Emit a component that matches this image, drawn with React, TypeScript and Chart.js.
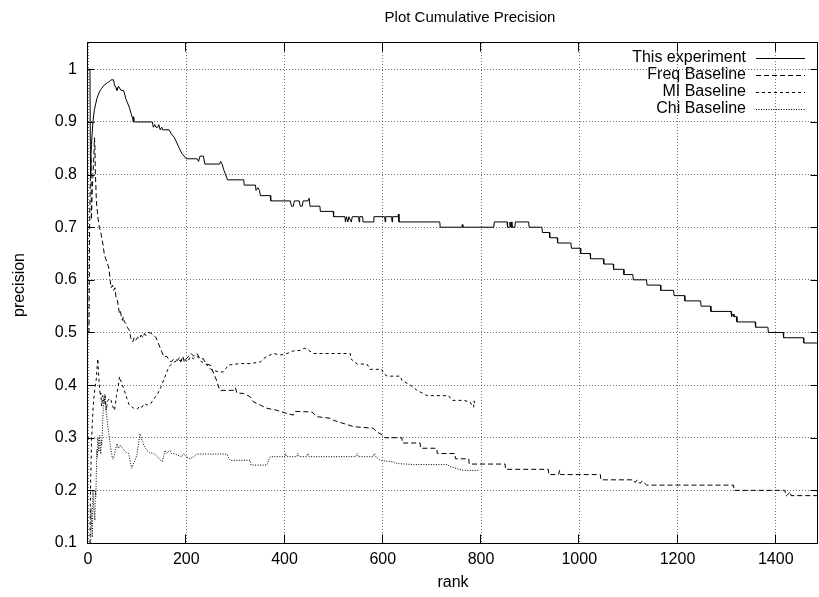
import React, { useEffect, useRef } from 'react';
import { Chart, registerables } from 'chart.js';

Chart.register(...registerables);

const FONT = "'Liberation Sans', Arial, Helvetica, sans-serif";

const titleText = 'Plot Cumulative Precision';
const xAxisLabel = 'rank';
const yAxisLabel = 'precision';
const xTickValues = [0, 200, 400, 600, 800, 1000, 1200, 1400];
const xTickLabels = ['0', '200', '400', '600', '800', '1000', '1200', '1400'];
const yTickValues = [0.1, 0.2, 0.3, 0.4, 0.5, 0.6, 0.7, 0.8, 0.9, 1.0];
const yTickLabels = ['0.1', '0.2', '0.3', '0.4', '0.5', '0.6', '0.7', '0.8', '0.9', '1'];
const seriesNames = ['This experiment', 'Freq Baseline', 'MI Baseline', 'Chi Baseline'];
const seriesDashes = [[], [5, 3], [3, 3], [1, 1.5]];

const expRank = [1, 4, 5, 6, 7, 10, 13, 18, 23, 28, 33, 40, 44, 47, 52, 54, 57, 59, 62, 67, 72, 74, 77, 84, 88, 91, 92, 93, 94, 131, 133, 136, 138, 142, 144, 147, 150, 152, 165, 170, 176, 181, 186, 191, 196, 200, 222, 225, 228, 235, 238, 268, 270, 273, 276, 280, 284, 317, 318, 341, 342, 346, 349, 351, 371, 372, 412, 414, 418, 420, 430, 432, 436, 438, 448, 450, 452, 472, 473, 499, 500, 523, 524, 526, 529, 531, 536, 538, 551, 552, 553, 559, 560, 581, 582, 604, 605, 606, 618, 619, 620, 631, 632, 633, 716, 717, 761, 762, 763, 826, 827, 853, 854, 858, 859, 860, 862, 863, 869, 870, 897, 898, 924, 925, 939, 940, 955, 956, 983, 984, 1002, 1003, 1022, 1023, 1049, 1050, 1069, 1070, 1090, 1091, 1109, 1110, 1137, 1138, 1165, 1166, 1192, 1193, 1214, 1215, 1247, 1248, 1267, 1268, 1309, 1310, 1313, 1315, 1320, 1321, 1358, 1359, 1384, 1385, 1415, 1416, 1456, 1457, 1486];
const expPrec = [1.0, 1.0, 0.8, 0.833, 0.857, 0.9, 0.923, 0.944, 0.957, 0.964, 0.97, 0.975, 0.977, 0.98, 0.98, 0.97, 0.965, 0.96, 0.968, 0.96, 0.96, 0.955, 0.944, 0.928, 0.915, 0.906, 0.9, 0.91, 0.9, 0.9, 0.89, 0.895, 0.89, 0.89, 0.895, 0.885, 0.89, 0.885, 0.885, 0.877, 0.87, 0.86, 0.85, 0.84, 0.835, 0.83, 0.83, 0.825, 0.835, 0.835, 0.82, 0.82, 0.825, 0.82, 0.81, 0.8, 0.79, 0.79, 0.78, 0.78, 0.77, 0.775, 0.77, 0.76, 0.76, 0.75, 0.75, 0.74, 0.74, 0.75, 0.75, 0.74, 0.74, 0.75, 0.75, 0.755, 0.74, 0.74, 0.73, 0.73, 0.72, 0.72, 0.71, 0.72, 0.71, 0.72, 0.71, 0.72, 0.72, 0.71, 0.72, 0.72, 0.71, 0.71, 0.72, 0.72, 0.71, 0.72, 0.72, 0.71, 0.72, 0.72, 0.725, 0.71, 0.71, 0.7, 0.7, 0.705, 0.7, 0.7, 0.71, 0.71, 0.7, 0.7, 0.71, 0.7, 0.71, 0.7, 0.7, 0.71, 0.71, 0.7, 0.7, 0.69, 0.69, 0.68, 0.68, 0.67, 0.67, 0.66, 0.66, 0.65, 0.65, 0.64, 0.64, 0.63, 0.63, 0.62, 0.62, 0.61, 0.61, 0.6, 0.6, 0.59, 0.59, 0.58, 0.58, 0.57, 0.57, 0.56, 0.56, 0.55, 0.55, 0.54, 0.54, 0.53, 0.535, 0.53, 0.53, 0.52, 0.52, 0.51, 0.51, 0.5, 0.5, 0.49, 0.49, 0.48, 0.48];

const freqRank = [1, 2, 3, 4, 5, 6, 7, 8, 9, 10, 11, 12, 13, 14, 15, 16, 17, 18, 20, 23, 26, 30, 33, 36, 40, 43, 45, 47, 50, 52, 55, 57, 60, 64, 66, 68, 70, 72, 74, 77, 80, 84, 87, 91, 94, 97, 101, 105, 108, 112, 115, 118, 122, 128, 132, 138, 143, 149, 155, 160, 165, 169, 175, 182, 186, 189, 193, 196, 200, 205, 210, 215, 222, 228, 235, 240, 249, 256, 263, 268, 273, 296, 300, 303, 317, 330, 337, 351, 364, 385, 405, 418, 422, 456, 466, 493, 500, 541, 581, 588, 600, 604, 639, 640, 676, 677, 710, 711, 747, 748, 775, 776, 849, 850, 937, 938, 958, 960, 962, 1043, 1044, 1110, 1114, 1118, 1124, 1128, 1137, 1138, 1314, 1315, 1419, 1420, 1422, 1430, 1431, 1486];
const freqPrec = [0.5, 0.5, 0.667, 0.75, 0.8, 0.833, 0.714, 0.75, 0.778, 0.8, 0.818, 0.833, 0.87, 0.857, 0.8, 0.78, 0.75, 0.74, 0.72, 0.7, 0.69, 0.67, 0.65, 0.64, 0.63, 0.62, 0.6, 0.585, 0.59, 0.58, 0.585, 0.567, 0.56, 0.536, 0.54, 0.53, 0.523, 0.53, 0.52, 0.517, 0.51, 0.504, 0.49, 0.482, 0.49, 0.485, 0.491, 0.488, 0.495, 0.49, 0.498, 0.494, 0.5, 0.499, 0.495, 0.491, 0.48, 0.466, 0.453, 0.455, 0.448, 0.444, 0.45, 0.447, 0.452, 0.444, 0.455, 0.444, 0.45, 0.455, 0.46, 0.455, 0.46, 0.45, 0.45, 0.44, 0.438, 0.422, 0.406, 0.39, 0.39, 0.39, 0.395, 0.385, 0.384, 0.378, 0.368, 0.362, 0.356, 0.352, 0.346, 0.343, 0.35, 0.349, 0.34, 0.337, 0.333, 0.321, 0.318, 0.311, 0.305, 0.3, 0.3, 0.29, 0.29, 0.28, 0.28, 0.27, 0.27, 0.26, 0.26, 0.25, 0.25, 0.24, 0.24, 0.23, 0.23, 0.238, 0.23, 0.23, 0.22, 0.22, 0.215, 0.22, 0.213, 0.218, 0.21, 0.21, 0.21, 0.2, 0.2, 0.19, 0.19, 0.197, 0.19, 0.19];

const miRank = [1, 3, 5, 7, 9, 11, 13, 15, 17, 19, 20, 21, 23, 25, 26, 28, 30, 32, 35, 37, 40, 44, 47, 50, 54, 58, 62, 64, 68, 74, 79, 84, 90, 95, 101, 105, 110, 115, 120, 128, 135, 142, 149, 159, 165, 170, 176, 182, 189, 195, 203, 208, 215, 222, 230, 240, 250, 256, 266, 276, 281, 286, 310, 330, 351, 357, 365, 378, 391, 405, 418, 432, 440, 446, 459, 534, 535, 548, 568, 574, 598, 602, 609, 636, 639, 656, 670, 690, 734, 741, 764, 778, 782, 785, 786, 788];
const miPrec = [0.0, 0.0, 0.2, 0.286, 0.333, 0.364, 0.385, 0.4, 0.412, 0.44, 0.45, 0.43, 0.4, 0.38, 0.385, 0.36, 0.38, 0.37, 0.38, 0.352, 0.37, 0.375, 0.371, 0.36, 0.352, 0.38, 0.4, 0.416, 0.405, 0.39, 0.375, 0.362, 0.358, 0.355, 0.355, 0.36, 0.358, 0.365, 0.362, 0.365, 0.375, 0.384, 0.397, 0.422, 0.435, 0.44, 0.444, 0.447, 0.447, 0.45, 0.444, 0.454, 0.45, 0.455, 0.445, 0.44, 0.43, 0.428, 0.425, 0.425, 0.432, 0.438, 0.441, 0.441, 0.444, 0.45, 0.455, 0.46, 0.457, 0.46, 0.465, 0.466, 0.47, 0.468, 0.46, 0.46, 0.45, 0.44, 0.44, 0.43, 0.43, 0.422, 0.417, 0.417, 0.409, 0.4, 0.39, 0.38, 0.38, 0.371, 0.371, 0.368, 0.36, 0.358, 0.37, 0.36];

const chiRank = [1, 5, 6, 7, 8, 9, 10, 11, 12, 13, 14, 15, 16, 17, 18, 19, 20, 21, 22, 23, 24, 25, 26, 27, 28, 29, 30, 31, 32, 33, 34, 35, 36, 38, 40, 42, 44, 46, 48, 50, 52, 55, 59, 62, 66, 70, 75, 80, 83, 86, 89, 92, 96, 100, 103, 106, 110, 114, 120, 125, 134, 140, 145, 151, 154, 157, 160, 167, 170, 174, 180, 190, 195, 200, 208, 215, 222, 283, 285, 290, 330, 332, 364, 368, 371, 400, 402, 404, 425, 427, 430, 445, 448, 450, 545, 548, 550, 580, 583, 586, 595, 622, 629, 663, 731, 737, 764, 795];
const chiPrec = [0.0, 0.0, 0.167, 0.143, 0.125, 0.111, 0.2, 0.182, 0.167, 0.154, 0.143, 0.2, 0.188, 0.235, 0.278, 0.263, 0.3, 0.286, 0.273, 0.304, 0.292, 0.28, 0.269, 0.296, 0.286, 0.31, 0.333, 0.355, 0.375, 0.364, 0.382, 0.371, 0.361, 0.342, 0.325, 0.31, 0.295, 0.283, 0.27, 0.26, 0.26, 0.273, 0.289, 0.28, 0.286, 0.28, 0.275, 0.27, 0.27, 0.255, 0.242, 0.25, 0.257, 0.27, 0.29, 0.308, 0.295, 0.285, 0.276, 0.272, 0.27, 0.265, 0.26, 0.254, 0.265, 0.276, 0.27, 0.276, 0.27, 0.27, 0.268, 0.264, 0.27, 0.264, 0.26, 0.264, 0.269, 0.269, 0.264, 0.257, 0.257, 0.248, 0.248, 0.258, 0.264, 0.264, 0.27, 0.264, 0.264, 0.27, 0.264, 0.264, 0.27, 0.264, 0.264, 0.27, 0.264, 0.264, 0.27, 0.264, 0.257, 0.254, 0.251, 0.249, 0.249, 0.245, 0.238, 0.238];

const X_MIN = 0;
const X_MAX = 1486;
const Y_MIN = 0.1;
const Y_MAX = 1.05;

const toPoints = (xs: number[], ys: number[]) => xs.map((x, i) => ({ x, y: ys[i] }));

const decorPlugin = {
  id: 'gnuplotDecor',
  afterDraw(chart: any) {
    const ctx = chart.ctx as CanvasRenderingContext2D;
    const a = chart.chartArea;
    const xs = chart.scales.x;
    const ys = chart.scales.y;
    ctx.save();
    // frame
    ctx.strokeStyle = '#000';
    ctx.lineWidth = 1;
    ctx.setLineDash([]);
    const L = Math.round(a.left) - 0.5;
    const R = Math.round(a.right) - 0.5;
    const T = Math.round(a.top) - 0.5;
    const B = Math.round(a.bottom) + 0.5;
    ctx.strokeRect(L, T, R - L, B - T);
    // inward ticks, mirrored
    ctx.beginPath();
    xTickValues.forEach((v) => {
      const px = Math.round(xs.getPixelForValue(v)) - 0.5;
      ctx.moveTo(px, B);
      ctx.lineTo(px, B - 9);
      ctx.moveTo(px, T);
      ctx.lineTo(px, T + 9);
    });
    yTickValues.forEach((v) => {
      const py = Math.round(ys.getPixelForValue(v)) + 0.5;
      ctx.moveTo(L, py);
      ctx.lineTo(L + 7, py);
      ctx.moveTo(R, py);
      ctx.lineTo(R - 7, py);
    });
    ctx.stroke();

    // title & axis labels
    ctx.fillStyle = '#000';
    ctx.font = `15px ${FONT}`;
    ctx.textAlign = 'center';
    ctx.textBaseline = 'middle';
    ctx.fillText(titleText, 470, 18);
    ctx.font = `16px ${FONT}`;
    ctx.fillText(xAxisLabel, (a.left + a.right) / 2, 583);
    ctx.save();
    ctx.translate(20, 285);
    ctx.rotate(-Math.PI / 2);
    ctx.fillText(yAxisLabel, 0, 0);
    ctx.restore();

    // legend
    ctx.font = `16px ${FONT}`;
    ctx.textAlign = 'right';
    const rowY = [58, 75, 92, 109];
    seriesNames.forEach((name, i) => {
      const y = rowY[i];
      ctx.fillStyle = '#000';
      ctx.fillText(name, 746, y);
      ctx.beginPath();
      ctx.setLineDash(seriesDashes[i]);
      ctx.moveTo(756, Math.round(y) + 0.5);
      ctx.lineTo(805, Math.round(y) + 0.5);
      ctx.stroke();
    });
    ctx.restore();
  },
};

export default function App() {
  const canvasRef = useRef<HTMLCanvasElement | null>(null);

  useEffect(() => {
    const canvas = canvasRef.current;
    if (!canvas) return;
    const series = [
      toPoints(expRank, expPrec),
      toPoints(freqRank, freqPrec),
      toPoints(miRank, miPrec),
      toPoints(chiRank, chiPrec),
    ];
    const chart = new Chart(canvas, {
      type: 'line',
      data: {
        datasets: series.map((pts, i) => ({
          label: seriesNames[i],
          data: pts,
          borderColor: '#000',
          backgroundColor: '#000',
          borderWidth: 1,
          borderDash: seriesDashes[i],
          pointRadius: 0,
          tension: 0,
          fill: false,
        })),
      },
      options: {
        animation: false,
        responsive: false,
        devicePixelRatio: 1,
        events: [],
        layout: { padding: { left: 0, right: 1, top: 43, bottom: 0 } },
        plugins: {
          legend: { display: false },
          title: { display: false },
          tooltip: { enabled: false },
        },
        scales: {
          x: {
            type: 'linear',
            min: X_MIN,
            max: X_MAX,
            afterBuildTicks: (s: any) => {
              s.ticks = xTickValues.map((v) => ({ value: v }));
            },
            afterFit: (s: any) => {
              s.height = 54;
            },
            ticks: {
              autoSkip: false,
              maxRotation: 0,
              padding: 7,
              color: '#000',
              font: { family: FONT, size: 16 },
              callback: (v: any) => {
                const i = xTickValues.indexOf(Number(v));
                return i >= 0 ? xTickLabels[i] : '';
              },
            },
            grid: { color: 'rgba(0,0,0,0.55)', drawTicks: false, lineWidth: 1 },
            border: { display: false, dash: [1, 2] },
          },
          y: {
            type: 'linear',
            min: Y_MIN,
            max: Y_MAX,
            afterBuildTicks: (s: any) => {
              s.ticks = yTickValues.map((v) => ({ value: v }));
            },
            afterFit: (s: any) => {
              s.width = 88;
            },
            ticks: {
              autoSkip: false,
              padding: 11,
              color: '#000',
              font: { family: FONT, size: 16 },
              callback: (v: any) => {
                const i = yTickValues.findIndex((t) => Math.abs(t - Number(v)) < 1e-6);
                return i >= 0 ? yTickLabels[i] : '';
              },
            },
            grid: { color: 'rgba(0,0,0,0.55)', drawTicks: false, lineWidth: 1 },
            border: { display: false, dash: [1, 2] },
          },
        },
      },
      plugins: [decorPlugin],
    });
    return () => chart.destroy();
  }, []);

  return (
    <div style={{ position: 'absolute', left: 0, top: 0, width: 819, height: 597, background: '#fff' }}>
      <canvas ref={canvasRef} width={819} height={597} style={{ display: 'block' }} />
    </div>
  );
}
